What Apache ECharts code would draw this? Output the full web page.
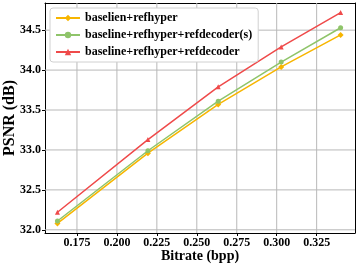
<!DOCTYPE html>
<html><head><meta charset="utf-8">
<script src="https://cdn.jsdelivr.net/npm/echarts@6/dist/echarts.min.js"></script>
<style>html,body{margin:0;padding:0;background:#fff}#c{width:357px;height:266px}</style>
</head><body><div id="c"></div>
<script>
const bitrate = [0.1628, 0.2194, 0.2634, 0.3028, 0.3400];
const psnrBase = [32.08, 32.96, 33.57, 34.04, 34.44];
const psnrDecS = [32.11, 32.99, 33.61, 34.10, 34.53];
const psnrDec  = [32.22, 33.13, 33.79, 34.29, 34.72];
const names = ['baselien+refhyper', 'baseline+refhyper+refdecoder(s)', 'baseline+refhyper+refdecoder'];
const xTicks = [0.175, 0.200, 0.225, 0.250, 0.275, 0.300, 0.325];
const yTicks = [32.0, 32.5, 33.0, 33.5, 34.0, 34.5];

const colors = ['#f7b500', '#8fc46a', '#ef4a4a'];
const symbols = ['diamond', 'circle', 'triangle'];
const sets = [psnrBase, psnrDecS, psnrDec];
const font = 'Liberation Serif';
const gridColor = '#b8b8b8';
const X_MIN = 0.155, X_MAX = 0.349, Y_MIN = 31.96, Y_MAX = 34.84;

function gridSeries(points) {
  return { type: 'line', data: points, symbol: 'none', showSymbol: false, silent: true, z: 1, clip: false,
    lineStyle: { color: gridColor, width: 1, opacity: 1 }, itemStyle: { color: gridColor }, tooltip: { show: false }, emphasis: { disabled: true } };
}
const gridLineSeries = xTicks.map(v => gridSeries([[v, Y_MIN], [v, Y_MAX]]))
  .concat(yTicks.map(v => gridSeries([[X_MIN, v], [X_MAX, v]])));

const frameAxis = { show: true, axisLine: { show: true, lineStyle: { color: '#000' } }, axisTick: { show: false }, axisLabel: { show: false }, splitLine: { show: false } };

const chart = echarts.init(document.getElementById('c'));
chart.setOption({
  animation: false,
  grid: { left: 45, right: 2, top: 3, bottom: 33, show: false, outerBoundsMode: 'none', containLabel: false },
  legend: {
    left: 50, top: 8, orient: 'vertical', itemGap: 5, itemWidth: 24, itemHeight: 8, z: 20,
    backgroundColor: '#fff', borderColor: '#d0d0d0', borderWidth: 1, borderRadius: 3, padding: [4, 6, 4, 5],
    textStyle: { fontFamily: font, fontWeight: 'bold', fontSize: 12, color: '#000' },
    data: names
  },
  xAxis: [{
    type: 'value', min: X_MIN, max: X_MAX, position: 'bottom',
    name: 'Bitrate (bpp)', nameLocation: 'middle', nameGap: 16, nameMoveOverlap: false,
    nameTextStyle: { fontFamily: font, fontWeight: 'bold', fontSize: 14, color: '#000' },
    axisLine: { lineStyle: { color: '#000' } },
    axisTick: { show: true, length: 3, customValues: xTicks, lineStyle: { color: '#000' } },
    axisLabel: { customValues: xTicks, formatter: v => v.toFixed(3), fontFamily: font, fontWeight: 'bold', fontSize: 12, color: '#000', margin: 4 },
    splitLine: { show: false }
  }, Object.assign({ type: 'value', min: X_MIN, max: X_MAX, position: 'top' }, frameAxis)],
  yAxis: [{
    type: 'value', min: Y_MIN, max: Y_MAX, position: 'left',
    name: 'PSNR (dB)', nameLocation: 'middle', nameGap: 27, nameMoveOverlap: false,
    nameTextStyle: { fontFamily: font, fontWeight: 'bold', fontSize: 16, color: '#000' },
    axisLine: { show: true, lineStyle: { color: '#000' } },
    axisTick: { show: true, length: 3, customValues: yTicks, lineStyle: { color: '#000' } },
    axisLabel: { customValues: yTicks, formatter: v => v.toFixed(1), fontFamily: font, fontWeight: 'bold', fontSize: 12, color: '#000', margin: 4 },
    splitLine: { show: false }
  }, Object.assign({ type: 'value', min: Y_MIN, max: Y_MAX, position: 'right' }, frameAxis)],
  series: gridLineSeries.concat(names.map((n, i) => ({
    name: n, type: 'line',
    data: bitrate.map((x, j) => [x, sets[i][j]]),
    symbol: symbols[i], symbolSize: i === 0 ? 6 : 5, showSymbol: true,
    itemStyle: { color: colors[i] },
    lineStyle: { color: colors[i], width: 1.5 },
    z: 5 + i
  })))
});
</script>
</body></html>
